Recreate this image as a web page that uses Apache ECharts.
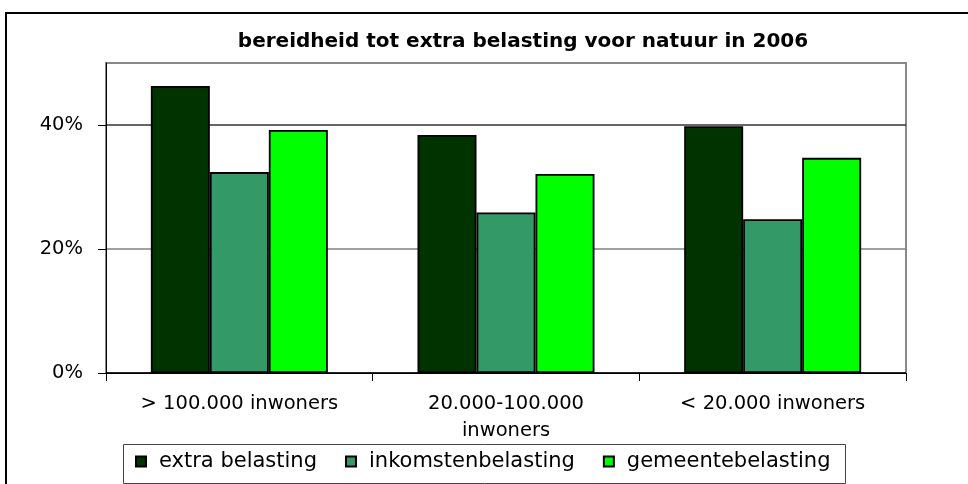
<!DOCTYPE html>
<html>
<head>
<meta charset="utf-8">
<script src="https://cdn.jsdelivr.net/npm/echarts@6/dist/echarts.min.js"></script>
<style>
html,body{margin:0;padding:0;background:#fff;}
#chart{width:968px;height:484px;}
</style>
</head>
<body>
<div id="chart"></div>
<script>
var categories = ['> 100.000 inwoners', '20.000-100.000\ninwoners', '< 20.000 inwoners'];
var seriesNames = ['extra belasting', 'inkomstenbelasting', 'gemeentebelasting'];
var extraBelasting = [46.3, 38.4, 39.8];
var inkomstenbelasting = [32.4, 25.9, 24.8];
var gemeentebelasting = [39.2, 32.1, 34.7];
var yTicks = [0, 20, 40];

var FONT = 'DejaVu Sans';
var colors = ['#003300', '#339966', '#00FF00'];
var values = [extraBelasting, inkomstenbelasting, gemeentebelasting];

var chart = echarts.init(document.getElementById('chart'), null, {renderer: 'canvas'});
chart.setOption({
  animation: false,
  backgroundColor: '#fff',
  title: {
    text: 'bereidheid tot extra belasting voor natuur in 2006',
    left: 523,
    top: 32,
    textAlign: 'center',
    padding: 0,
    textStyle: {fontFamily: FONT, fontWeight: 'bold', fontSize: 20, color: '#000'}
  },
  graphic: [
    {type: 'rect', shape: {x: 6, y: 13, width: 1000, height: 520}, style: {fill: 'none', stroke: '#000', lineWidth: 2}, silent: true},
    {type: 'rect', shape: {x: 123.5, y: 444.5, width: 722, height: 39}, style: {fill: 'none', stroke: '#444', lineWidth: 1}, silent: true}
  ],
  legend: {
    data: seriesNames,
    left: 135,
    top: 451,
    padding: 0,
    itemWidth: 10,
    itemHeight: 10,
    itemGap: 28,
    icon: 'rect',
    textStyle: {fontFamily: FONT, fontSize: 21, color: '#000', padding: [0, 0, 0, 8]}
  },
  grid: {
    left: 106, right: 62, top: 63, bottom: 111,
    show: true, borderColor: '#888', borderWidth: 2, backgroundColor: '#fff'
  },
  xAxis: {
    type: 'category',
    data: categories,
    boundaryGap: true,
    axisLine: {show: true, lineStyle: {color: '#000', width: 1}},
    axisTick: {show: true, length: 8, alignWithLabel: false, lineStyle: {color: '#000'}},
    axisLabel: {fontFamily: FONT, fontSize: 19.5, color: '#000', lineHeight: 27, margin: 17, interval: 0}
  },
  yAxis: {
    type: 'value',
    min: 0, max: 50, interval: 20,
    axisLine: {show: true, lineStyle: {color: '#000', width: 1}},
    axisTick: {show: true, length: 8, lineStyle: {color: '#000'}, customValues: yTicks},
    axisLabel: {
      fontFamily: FONT, fontSize: 19.5, color: '#000', margin: 23,
      customValues: yTicks,
      formatter: function (v) { return v + '%'; }
    },
    splitLine: {show: true, lineStyle: {color: ['#000', '#808080', '#333'], width: 1.5}}
  },
  series: seriesNames.map(function (name, i) {
    return {
      name: name,
      type: 'bar',
      data: values[i],
      barWidth: 59,
      barGap: '0%',
      itemStyle: {color: colors[i], borderColor: '#000', borderWidth: 1.8}
    };
  })
});
</script>
</body>
</html>
